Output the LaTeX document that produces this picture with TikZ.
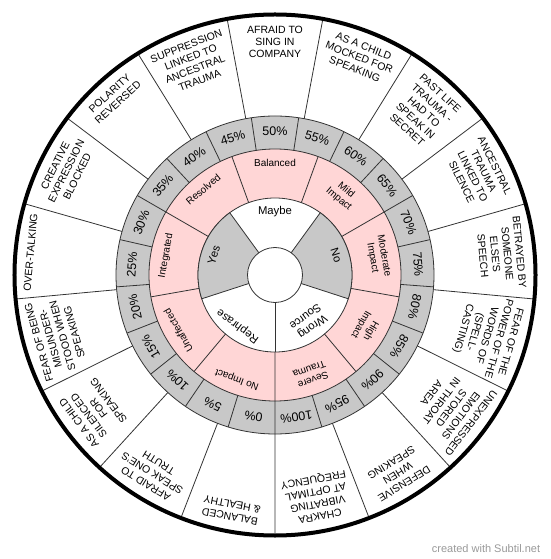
\documentclass[tikz,border=0pt]{standalone}
\usepackage{fontspec}
\setmainfont{Liberation Sans}
\definecolor{wheelgray}{RGB}{200,200,200}
\definecolor{wheelpink}{RGB}{255,214,214}

\begin{document}
\begin{tikzpicture}[x=1pt, y=1pt,
			wedgeline/.style = {draw=black!80, line width=.8pt},
			outertext/.style = {anchor=north, align=center, inner sep=1pt, rotate=#1-90, font=\fontsize{10.5}{12.3}\selectfont},
			percenttext/.style = {anchor=center, inner sep=0pt, rotate=#1-90, font=\fontsize{12.5}{14}\selectfont},
			leveltext/.style = {anchor=north, align=center, inner sep=1pt, rotate=#1-90, font=\fontsize{10}{11.5}\selectfont},
			answertext/.style = {anchor=north, align=center, inner sep=1pt, rotate=#1-90, font=\fontsize{11.3}{12.5}\selectfont}]

\useasboundingbox (-275,-284) rectangle (275,275);

\filldraw[wedgeline, fill=wheelgray] (0,0) circle (159);
\filldraw[wedgeline, fill=wheelpink] (0,0) circle (126);
\filldraw[wedgeline, fill=white] (0,0) circle (77);
\filldraw[wedgeline, fill=wheelgray] (0,0) -- (126:77) arc (126:198:77) -- cycle;
\filldraw[wedgeline, fill=wheelgray] (0,0) -- (-18:77) arc (-18:54:77) -- cycle;
\filldraw[wedgeline, fill=white] (0,0) circle (27.5);

\draw[wedgeline] (-90:27.5) -- (-90:77);

\draw[wedgeline] (110:77) -- (110:126) (70:77) -- (70:126) (30:77) -- (30:126)
	(-10:77) -- (-10:126) (-50:77) -- (-50:126) (-90:77) -- (-90:126)
	(-130:77) -- (-130:126) (-170:77) -- (-170:126) (150:77) -- (150:126);

\draw[wedgeline] (98.571:126) -- (98.571:159) (81.429:126) -- (81.429:159) (64.286:126) -- (64.286:159)
	(47.143:126) -- (47.143:159) (30:126) -- (30:159) (12.857:126) -- (12.857:159)
	(-4.286:126) -- (-4.286:159) (-21.429:126) -- (-21.429:159) (-38.571:126) -- (-38.571:159)
	(-55.714:126) -- (-55.714:159) (-72.857:126) -- (-72.857:159) (-90:126) -- (-90:159)
	(-107.143:126) -- (-107.143:159) (-124.286:126) -- (-124.286:159) (-141.429:126) -- (-141.429:159)
	(-158.571:126) -- (-158.571:159) (-175.714:126) -- (-175.714:159) (-192.857:126) -- (-192.857:159)
	(-210:126) -- (-210:159) (-227.143:126) -- (-227.143:159) (-244.286:126) -- (-244.286:159);

\draw[wedgeline] (100.588:159) -- (100.588:261) (79.412:159) -- (79.412:261) (58.235:159) -- (58.235:261)
	(37.059:159) -- (37.059:261) (15.882:159) -- (15.882:261) (-5.294:159) -- (-5.294:261)
	(-26.471:159) -- (-26.471:261) (-47.647:159) -- (-47.647:261) (-68.824:159) -- (-68.824:261)
	(-90:159) -- (-90:261) (-111.176:159) -- (-111.176:261) (-132.353:159) -- (-132.353:261)
	(-153.529:159) -- (-153.529:261) (-174.706:159) -- (-174.706:261) (-195.882:159) -- (-195.882:261)
	(-217.059:159) -- (-217.059:261) (-238.235:159) -- (-238.235:261);

\draw[line width=4pt] (0,0) circle (260.5);

\node[answertext=90] (maybe) at (90:69.5) {Maybe};
\node[answertext=18] (no) at (18:69.5) {No};
\node[answertext=-54] (wrongsource) at (-54:69.5) {Wrong\\Source};
\node[answertext=-126] (rephrase) at (-126:69.5) {Rephrase};
\node[answertext=162] (yes) at (162:69.5) {Yes};

\node[leveltext=90] (balanced) at (90:116.5) {Balanced};
\node[leveltext=50] (mild) at (50:116.5) {Mild\\Impact};
\node[leveltext=10] (moderate) at (10:116.5) {Moderate\\Impact};
\node[leveltext=-30] (high) at (-30:116.5) {High\\Impact};
\node[leveltext=-70] (severe) at (-70:116.5) {Severe\\Trauma};
\node[leveltext=-110] (noimpact) at (-110:116.5) {No Impact};
\node[leveltext=-150] (unaffected) at (-150:116.5) {Unaffected};
\node[leveltext=170] (integrated) at (170:116.5) {Integrated};
\node[leveltext=130] (resolved) at (130:116.5) {Resolved};

\node[percenttext=261.429] (p0) at (261.429:143.5) {0\%};
\node[percenttext=244.286] (p5) at (244.286:143.5) {5\%};
\node[percenttext=227.143] (p10) at (227.143:143.5) {10\%};
\node[percenttext=210] (p15) at (210:143.5) {15\%};
\node[percenttext=192.857] (p20) at (192.857:143.5) {20\%};
\node[percenttext=175.714] (p25) at (175.714:143.5) {25\%};
\node[percenttext=158.571] (p30) at (158.571:143.5) {30\%};
\node[percenttext=141.429] (p35) at (141.429:143.5) {35\%};
\node[percenttext=124.286] (p40) at (124.286:143.5) {40\%};
\node[percenttext=107.143] (p45) at (107.143:143.5) {45\%};
\node[percenttext=90] (p50) at (90:143.5) {50\%};
\node[percenttext=72.857] (p55) at (72.857:143.5) {55\%};
\node[percenttext=55.714] (p60) at (55.714:143.5) {60\%};
\node[percenttext=38.571] (p65) at (38.571:143.5) {65\%};
\node[percenttext=21.429] (p70) at (21.429:143.5) {70\%};
\node[percenttext=4.286] (p75) at (4.286:143.5) {75\%};
\node[percenttext=-12.857] (p80) at (-12.857:143.5) {80\%};
\node[percenttext=-30] (p85) at (-30:143.5) {85\%};
\node[percenttext=-47.143] (p90) at (-47.143:143.5) {90\%};
\node[percenttext=-64.286] (p95) at (-64.286:143.5) {95\%};
\node[percenttext=-81.429] (p100) at (-81.429:143.5) {100\%};

\node[outertext=90] (o0) at (90:250.5) {AFRAID TO\\SING IN\\COMPANY};
\node[outertext=68.824] (o1) at (68.824:250.5) {AS A CHILD\\MOCKED FOR\\SPEAKING};
\node[outertext=47.647] (o2) at (47.647:250.5) {PAST LIFE\\TRAUMA -\\HAD TO\\SPEAK IN\\SECRET};
\node[outertext=26.471] (o3) at (26.471:250.5) {ANCESTRAL\\TRAUMA\\LINKED TO\\SILENCE};
\node[outertext=5.294] (o4) at (5.294:250.5) {BETRAYED BY\\SOMEONE\\ELSE'S\\SPEECH};
\node[outertext=-15.882] (o5) at (-15.882:250.5) {FEAR OF THE\\POWER OF THE\\WORDS OF\\(SPELL-\\CASTING)};
\node[outertext=-37.059] (o6) at (-37.059:250.5) {UNEXPRESSED\\EMOTIONS\\STORED\\IN THROAT\\AREA};
\node[outertext=-58.235] (o7) at (-58.235:250.5) {DEFENSIVE\\WHEN\\SPEAKING};
\node[outertext=-79.412] (o8) at (-79.412:250.5) {CHAKRA\\VIBRATING\\AT OPTIMAL\\FREQUENCY};
\node[outertext=-100.588] (o9) at (-100.588:250.5) {BALANCED\\\& HEALTHY};
\node[outertext=-121.765] (o10) at (-121.765:250.5) {AFRAID TO\\SPEAK ONE'S\\TRUTH};
\node[outertext=-142.941] (o11) at (-142.941:250.5) {AS A CHILD\\SILENCED\\FOR\\SPEAKING};
\node[outertext=-164.118] (o12) at (-164.118:250.5) {FEAR OF BEING\\MISUNDER-\\STOOD WHEN\\SPEAKING};
\node[outertext=-185.294] (o13) at (-185.294:250.5) {OVER-TALKING};
\node[outertext=-206.471] (o14) at (-206.471:250.5) {CREATIVE\\EXPRESSION\\BLOCKED};
\node[outertext=-227.647] (o15) at (-227.647:250.5) {POLARITY\\REVERSED};
\node[outertext=-248.824] (o16) at (-248.824:250.5) {SUPPRESSION\\LINKED TO\\ANCESTRAL\\TRAUMA};

\node[text=black!40, font=\fontsize{11}{13}\selectfont, inner sep=0pt] (credit) at (211,-274) {created with Subtil.net};

\end{tikzpicture}
\end{document}
